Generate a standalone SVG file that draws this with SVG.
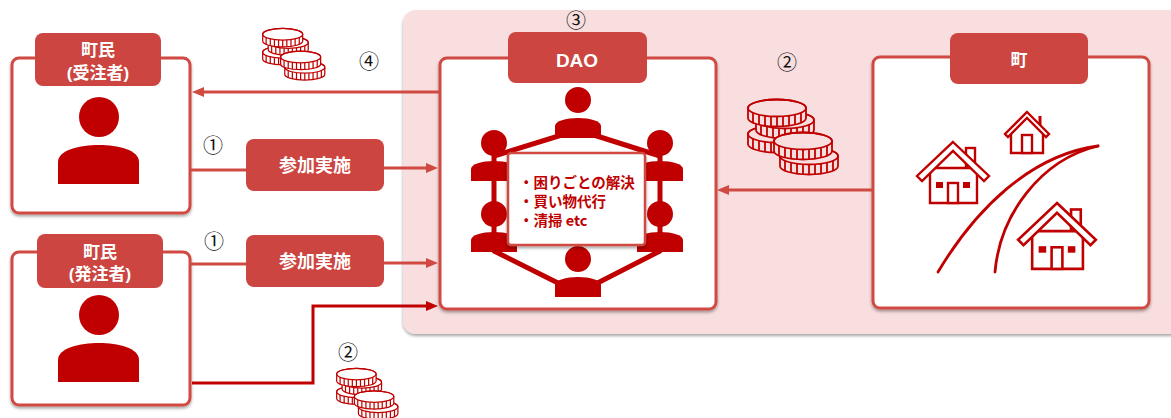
<svg xmlns="http://www.w3.org/2000/svg" xmlns:xlink="http://www.w3.org/1999/xlink" width="1171" height="418" viewBox="0 0 1171 418">
  <style>
    .box { fill: #fff; stroke: #D04A42; stroke-width: 3; }
    .tab { fill: #CC4540; }
    .tabtxt { fill: #fff; font-family: "Liberation Sans", "Noto Sans CJK JP", sans-serif; font-weight: bold; text-anchor: middle; }
    .num { fill: #111; font-family: "Noto Sans CJK JP", "DejaVu Sans", sans-serif; font-size: 20px; text-anchor: middle; }
    .icon { fill: #C00000; }
    .line { fill: none; stroke: #D04A42; stroke-width: 3; }
    .dark { fill: none; stroke: #C00000; stroke-width: 3; }
    .coinpart { stroke: #C00000; stroke-width: 1.8; }
    .house { fill: #fff; stroke: #C00000; stroke-width: 2.4; stroke-linejoin: miter; }
    .road { fill: none; stroke: #C00000; stroke-width: 2.8; stroke-linecap: round; }
    .list { fill: #C00000; font-family: "Noto Sans CJK JP", sans-serif; font-weight: bold; font-size: 14.5px; }
  </style>
  <defs>
    <filter id="shadow" x="-10%" y="-10%" width="120%" height="125%">
      <feDropShadow dx="0" dy="2" stdDeviation="1.5" flood-color="#000" flood-opacity="0.35"/>
    </filter>
    <marker id="arrowLight" markerUnits="userSpaceOnUse" markerWidth="12" markerHeight="10" viewBox="0 0 12 10" refX="3" refY="5" orient="auto">
      <path d="M0,0 L12,5 L0,10 Z" fill="#D04A42"/>
    </marker>
    <marker id="arrowDark" markerUnits="userSpaceOnUse" markerWidth="12" markerHeight="10" viewBox="0 0 12 10" refX="3" refY="5" orient="auto">
      <path d="M0,0 L12,5 L0,10 Z" fill="#C00000"/>
    </marker>
    <!-- single coin: top face + rim with ridges -->
    <g id="coin">
      <path class="coinpart" d="M1,9 A29,8.5 0 0 1 59,9 V19 A29,8.5 0 0 1 1,19 Z"/>
      <ellipse class="coinpart" cx="30" cy="9" rx="29" ry="8.5" fill="none"/>
      <path class="coinpart" fill="none" d="M6,13.8 V23.8 M12,15.7 V25.7 M18,16.7 V26.7 M24,17.3 V27.3 M30,17.5 V27.5 M36,17.3 V27.3 M42,16.7 V26.7 M48,15.7 V25.7 M54,13.8 V23.8"/>
    </g>
    <!-- two stacks of coins -->
    <g id="coins">
      <use xlink:href="#coin" href="#coin" x="0" y="26"/>
      <use xlink:href="#coin" href="#coin" x="8" y="12"/>
      <use xlink:href="#coin" href="#coin" x="0" y="0"/>
      <use xlink:href="#coin" href="#coin" x="32" y="48"/>
      <use xlink:href="#coin" href="#coin" x="26" y="33"/>
    </g>
    <!-- large person silhouette, origin at head centre -->
    <g id="person">
      <circle cx="0" cy="0" r="20"/>
      <path d="M-41,67 V45 C-41,33 -19,28 0,28 C19,28 40,33 40,45 V67 Z"/>
    </g>
    <!-- small person silhouette for the meeting table -->
    <g id="member">
      <circle cx="0" cy="0" r="13"/>
      <path d="M-23,38 V26 C-23,21 -12,18 0,18 C12,18 23,21 23,26 V38 Z"/>
    </g>
    <!-- house with chimney, two windows and a door; origin at roof apex -->
    <g id="house">
      <rect class="house" x="13" y="6" width="9" height="18"/>
      <path class="house" d="M-23,26 V61 H24 V26 Z"/>
      <path class="house" d="M0,0 L36,34 L31,39 L0,9 L-31,39 L-36,34 Z"/>
      <rect x="-17" y="40" width="7" height="6" fill="#C00000"/>
      <rect x="10" y="40" width="7" height="6" fill="#C00000"/>
      <rect class="house" x="-5" y="41" width="10" height="20"/>
    </g>
  </defs>

  <!-- background panel behind DAO and town -->
  <rect x="403" y="10" width="800" height="324" rx="13" fill="#F8DEDE" filter="url(#shadow)"/>

  <!-- resident (contractor) -->
  <g id="node-resident-contractor">
    <rect class="box" x="12" y="58" width="178" height="155" rx="7" filter="url(#shadow)"/>
    <rect class="tab" x="35" y="33" width="126" height="53" rx="8"/>
    <text class="tabtxt" x="98" y="56" font-size="17">町民</text>
    <text class="tabtxt" x="98" y="79" font-size="17">(受注者)</text>
    <use xlink:href="#person" href="#person" x="99" y="117" class="icon"/>
  </g>

  <!-- resident (client) -->
  <g id="node-resident-client">
    <rect class="box" x="12" y="252" width="178" height="153" rx="7" filter="url(#shadow)"/>
    <rect class="tab" x="37" y="234" width="126" height="54" rx="8"/>
    <text class="tabtxt" x="100" y="258" font-size="17">町民</text>
    <text class="tabtxt" x="100" y="280" font-size="17">(発注者)</text>
    <use xlink:href="#person" href="#person" x="99" y="315" class="icon"/>
  </g>

  <!-- participation buttons -->
  <g id="node-join-1">
    <rect class="tab" x="246" y="139" width="138" height="52" rx="8"/>
    <text class="tabtxt" x="315" y="172" font-size="18">参加実施</text>
  </g>
  <g id="node-join-2">
    <rect class="tab" x="246" y="235" width="138" height="52" rx="8"/>
    <text class="tabtxt" x="315" y="268" font-size="18">参加実施</text>
  </g>

  <!-- DAO -->
  <g id="node-dao">
    <rect class="box" x="440" y="58" width="276" height="251" rx="7" filter="url(#shadow)"/>
    <rect class="tab" x="508" y="32" width="139" height="51" rx="8"/>
    <text class="tabtxt" x="577" y="67" font-size="19">DAO</text>
    <polygon points="494,156 578,130 660,156 660,251 578,293 494,251" fill="none" stroke="#C00000" stroke-width="5" stroke-linejoin="round"/>
    <g class="icon">
      <use xlink:href="#member" href="#member" x="578" y="100"/>
      <use xlink:href="#member" href="#member" x="494" y="143"/>
      <use xlink:href="#member" href="#member" x="660" y="143"/>
      <use xlink:href="#member" href="#member" x="494" y="214"/>
      <use xlink:href="#member" href="#member" x="660" y="214"/>
      <use xlink:href="#member" href="#member" x="578" y="259"/>
    </g>
    <rect x="508" y="153" width="137" height="92" rx="3" fill="#fff" stroke="#D04A42" stroke-width="2.5" filter="url(#shadow)"/>
    <text class="list" x="519" y="188">・困りごとの解決</text>
    <text class="list" x="519" y="207">・買い物代行</text>
    <text class="list" x="519" y="226">・清掃 etc</text>
  </g>

  <!-- town -->
  <g id="node-town">
    <rect class="box" x="873" y="57" width="276" height="251" rx="7" filter="url(#shadow)"/>
    <rect class="tab" x="950" y="33" width="138" height="51" rx="8"/>
    <text class="tabtxt" x="1019" y="66" font-size="17" font-weight="normal">町</text>
    <path class="road" d="M938,272 C975,210 1030,155 1098,146"/>
    <path class="road" d="M995,272 C1000,215 1040,160 1098,146"/>
    <use xlink:href="#house" href="#house" x="953" y="142"/>
    <g transform="translate(1057,203) scale(1.08)">
      <use xlink:href="#house" href="#house"/>
    </g>
    <line x1="1040" y1="116" x2="1040" y2="128" stroke="#C00000" stroke-width="3"/>
    <path class="house" d="M1011,133 V153 H1043 V133"/>
    <path class="house" d="M1027,112 L1049,134 L1046,137 L1027,118 L1008,137 L1005,134 Z"/>
    <rect class="house" x="1022" y="135" width="10" height="18"/>
  </g>

  <!-- coin icons -->
  <use xlink:href="#coins" href="#coins" transform="translate(262,28) scale(0.69)" fill="#fff"/>
  <use xlink:href="#coins" href="#coins" transform="translate(747,99)" fill="#F8DEDE"/>
  <use xlink:href="#coins" href="#coins" transform="translate(336,368) scale(0.68)" fill="#fff"/>

  <!-- step numbers -->
  <text class="num" x="576" y="28">③</text>
  <text class="num" x="369" y="69">④</text>
  <text class="num" x="787" y="70">②</text>
  <text class="num" x="213" y="153">①</text>
  <text class="num" x="214" y="249">①</text>
  <text class="num" x="348" y="360">②</text>

  <!-- connectors -->
  <g id="connectors">
    <path class="line" d="M440,92 H201" marker-end="url(#arrowLight)"/>
    <path class="line" d="M190,170 H246"/>
    <path class="line" d="M384,168 H429" marker-end="url(#arrowLight)"/>
    <path class="line" d="M190,264 H246"/>
    <path class="line" d="M384,263 H429" marker-end="url(#arrowLight)"/>
    <path class="line" d="M873,190 H726" marker-end="url(#arrowLight)"/>
    <path class="dark" d="M192,383 H313 V306 H429" marker-end="url(#arrowDark)"/>
  </g>
</svg>
